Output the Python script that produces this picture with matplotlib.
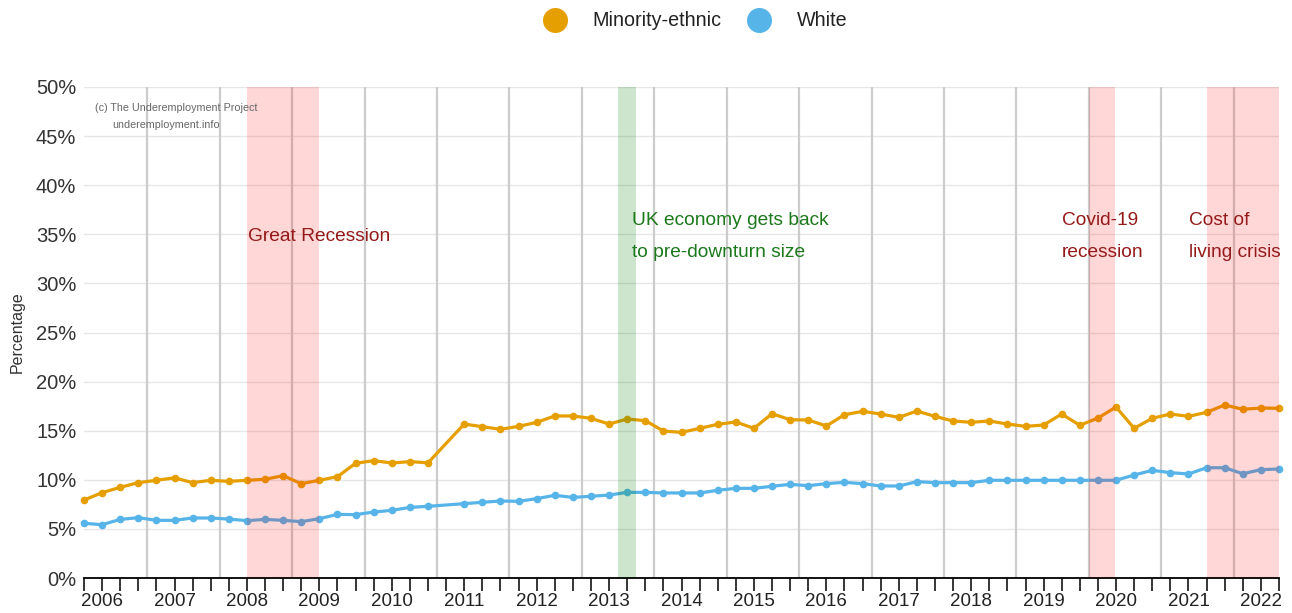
import numpy as np
import matplotlib
matplotlib.use("Agg")
import matplotlib.pyplot as plt
from matplotlib.lines import Line2D

plt.rcParams['font.family'] = ['Liberation Sans', 'DejaVu Sans']

# ---------------- data ----------------
series_names = ['Minority-ethnic', 'White']
series_colors = ['#E69F00', '#56B4E9']

# quarterly observations, 2005 Q4 .. 2022 Q1 (one quarter missing)
quarters = [f"{2005 + (q + 3) // 4} Q{(q + 3) % 4 + 1}" for q in range(67)]

minority = [7.94, 8.69, 9.23, 9.71, 9.95, 10.2, 9.71, 9.95, 9.84, 9.95,
            10.05, 10.42, 9.61, 9.95, 10.32, 11.68, 11.95, 11.71, 11.85, 11.73,
            np.nan, 15.68, 15.41, 15.14, 15.44, 15.85, 16.50, 16.50, 16.26, 15.68,
            16.19, 16.02, 14.97, 14.83, 15.24, 15.65, 15.89, 15.24, 16.73, 16.12,
            16.09, 15.48, 16.63, 16.97, 16.70, 16.36, 17.00, 16.46, 15.99, 15.85,
            15.99, 15.68, 15.44, 15.58, 16.70, 15.55, 16.29, 17.41, 15.24, 16.26,
            16.70, 16.46, 16.87, 17.62, 17.18, 17.31, 17.28]

white = [5.57, 5.43, 5.97, 6.14, 5.87, 5.87, 6.11, 6.11, 6.00, 5.84,
         5.97, 5.87, 5.74, 6.04, 6.48, 6.45, 6.72, 6.89, 7.19, 7.30,
         np.nan, 7.57, 7.71, 7.84, 7.81, 8.08, 8.42, 8.21, 8.32, 8.45,
         8.72, 8.72, 8.66, 8.66, 8.66, 8.93, 9.13, 9.13, 9.34, 9.54,
         9.40, 9.61, 9.74, 9.61, 9.37, 9.37, 9.81, 9.71, 9.71, 9.71,
         9.95, 9.95, 9.95, 9.95, 9.95, 9.95, 9.95, 9.95, 10.49, 10.96,
         10.73, 10.59, 11.23, 11.23, 10.62, 11.03, 11.10]

year_labels = [str(y) for y in range(2006, 2023)]

# shaded events, in quarter-index units
events = [
    ("Great Recession", 9.0, 13.0, 'red'),
    ("UK economy gets back\nto pre-downturn size", 29.5, 30.5, 'green'),
    ("Covid-19\nrecession", 55.5, 56.95, 'red'),
    ("Cost of\nliving crisis", 62.0, 66.0, 'red'),
]

# ---------------- figure ----------------
W, H = 1292, 613
fig = plt.figure(figsize=(W / 100, H / 100), dpi=100)
L, R, T, B = 84, 1279, 87, 578
ax = fig.add_axes([L / W, 1 - B / H, (R - L) / W, (B - T) / H])

n = len(quarters)
x = np.arange(n)
ax.set_xlim(0, n - 1)
ax.set_ylim(0, 50)

# horizontal grid
ax.set_yticks(np.arange(0, 51, 5))
ax.yaxis.grid(True, color='#e6e6e6', lw=1.0, zorder=0)
ax.set_axisbelow(True)

# vertical year-boundary lines
for pos in np.arange(3.5, n - 1, 4):
    ax.axvline(pos, color='#cccccc', lw=1.6, zorder=1)

# series
for vals, col in zip([minority, white], series_colors):
    v = np.array(vals, dtype=float)
    m = ~np.isnan(v)
    ax.plot(x[m], v[m], color=col, lw=2.3, marker='o', ms=5.5,
            markeredgewidth=0, zorder=3, clip_on=False)

# bands (drawn over everything, translucent)
band_cols = {'red': (1, 0, 0, 0.155), 'green': (0, 0.5, 0, 0.2)}
text_cols = {'red': '#951919', 'green': '#1b781b'}
for label, a, b, kind in events:
    ax.axvspan(a, b, color=band_cols[kind], lw=0, zorder=5)

# event annotations
ax.text(9.05, 34.8, "Great Recession", color=text_cols['red'], fontsize=13.8,
        va='center', ha='left', zorder=6)
for label, xpos in [(events[1][0], 30.25), (events[2][0], 54.02), (events[3][0], 61.02)]:
    kind = 'green' if 'UK' in label else 'red'
    l1, l2 = label.split('\n')
    ax.text(xpos, 36.4, l1, color=text_cols[kind], fontsize=13.8, va='center', ha='left', zorder=6)
    ax.text(xpos, 33.15, l2, color=text_cols[kind], fontsize=13.8, va='center', ha='left', zorder=6)

# copyright
ax.text(0.6, 47.9, "(c) The Underemployment Project", color='#666666', fontsize=7.75,
        va='center', ha='left', zorder=6)
ax.text(1.55, 46.1, "underemployment.info", color='#666666', fontsize=7.75,
        va='center', ha='left', zorder=6)

# axes styling
for s in ['top', 'right', 'left']:
    ax.spines[s].set_visible(False)
ax.spines['bottom'].set_color('black')
ax.spines['bottom'].set_linewidth(1.3)
ax.spines['bottom'].set_zorder(7)

ax.set_xticks(x)
lab = [''] * n
for i, yl in enumerate(year_labels):
    lab[1 + 4 * i] = yl
ax.set_xticklabels(lab)
ax.tick_params(axis='x', length=9, width=1.1, color='black', pad=2,
               labelsize=13.5, labelcolor='#222222')
ax.tick_params(axis='y', length=0, pad=5.5, labelsize=14.5, labelcolor='#333333')
ax.set_yticklabels([f"{int(t)}%" for t in np.arange(0, 51, 5)])

ax.set_ylabel("Percentage", fontsize=11.5, color='#333333')
ax.yaxis.set_label_coords(-(L - 25) / (R - L), 0.5)

# legend (top centre)
leg_y = 1 - 20 / H
for name, col, cx, tx in zip(series_names, series_colors, [555, 759], [592, 797]):
    fig.add_artist(Line2D([cx / W], [leg_y], marker='o', ms=18, color=col,
                          markeredgewidth=0, transform=fig.transFigure))
    fig.text(tx / W, leg_y, name, fontsize=14.2, color='#222222', va='center', ha='left')

fig.savefig("out.png", dpi=100, facecolor='white')
